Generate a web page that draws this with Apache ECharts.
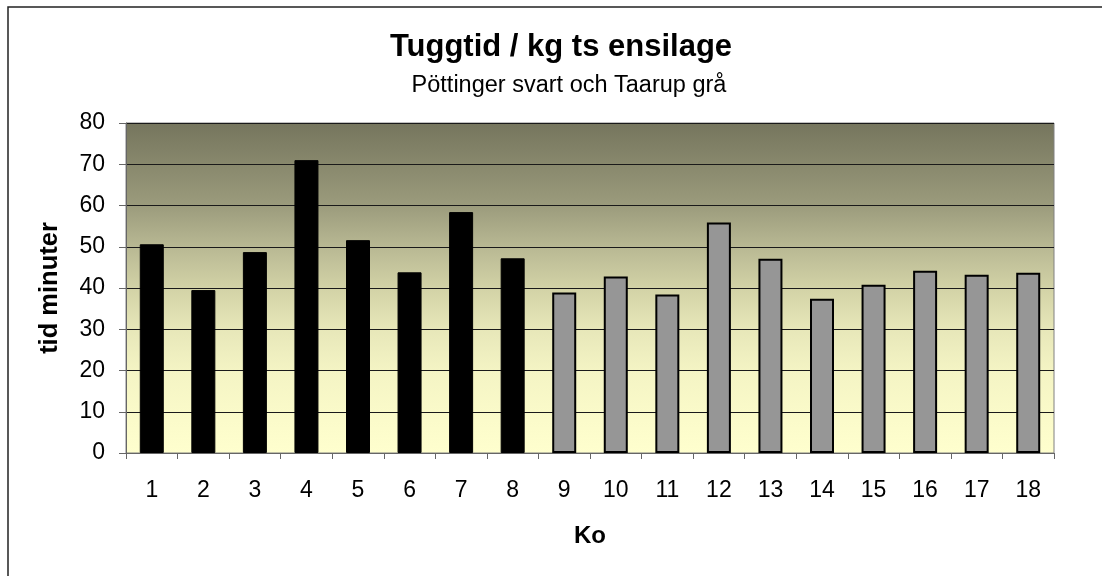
<!DOCTYPE html>
<html>
<head>
<meta charset="utf-8">
<script src="https://cdn.jsdelivr.net/npm/echarts@6/dist/echarts.min.js"></script>
<style>
    html, body { margin: 0; padding: 0; background: #fff; }
    #chart { width: 1102px; height: 576px; }
</style>
</head>
<body>
<div id="chart"></div>
<script>
const categories = ['1', '2', '3', '4', '5', '6', '7', '8', '9', '10', '11', '12', '13', '14', '15', '16', '17', '18'];
// Pöttinger (svart) ko 1-8, Taarup (grå) ko 9-18
const pottinger = [50.6, 39.5, 48.7, 71.0, 51.6, 43.8, 58.4, 47.2];
const taarup = [38.9, 42.8, 38.4, 55.9, 47.1, 37.4, 40.8, 44.2, 43.2, 43.7];
const yTicks = [0, 10, 20, 30, 40, 50, 60, 70, 80];

const font = '"Liberation Sans", Arial, sans-serif';
const myChart = echarts.init(document.getElementById('chart'));

const pottingerData = categories.map((c, i) => (i < pottinger.length ? pottinger[i] : '-'));
const taarupData = categories.map((c, i) => (i >= pottinger.length ? taarup[i - pottinger.length] : '-'));

const option = {
    backgroundColor: '#fff',
    animation: false,
    textStyle: { fontFamily: font },
    title: [
        {
            text: 'Tuggtid / kg ts ensilage',
            left: 556,
            top: 27,
            textAlign: 'center',
            textStyle: { fontFamily: font, fontSize: 31, fontWeight: 'bold', color: '#000' },
        },
        {
            text: 'Pöttinger svart och Taarup grå',
            left: 564,
            top: 69,
            textAlign: 'center',
            textStyle: { fontFamily: font, fontSize: 23.5, fontWeight: 'normal', color: '#000' },
        },
    ],
    graphic: [
        {
            type: 'rect',
            z: -1,
            shape: { x: 8, y: 7, width: 1200, height: 700 },
            style: { fill: 'none', stroke: '#222', lineWidth: 1.5 },
        },
    ],
    grid: {
        left: 126,
        right: 48,
        top: 123,
        bottom: 123,
        show: true,
        borderColor: '#808080',
        borderWidth: 1,
        backgroundColor: new echarts.graphic.LinearGradient(0, 0, 0, 1, [
            { offset: 0, color: '#75755D' },
            { offset: 0.25, color: '#9B9B7C' },
            { offset: 0.375, color: '#B8B893' },
            { offset: 0.5, color: '#D2D2A6' },
            { offset: 0.625, color: '#E7E7B9' },
            { offset: 0.75, color: '#F4F4C4' },
            { offset: 0.875, color: '#FAFAC9' },
            { offset: 1, color: '#FFFFCE' },
        ]),
    },
    xAxis: {
        type: 'category',
        data: categories,
        name: 'Ko',
        nameLocation: 'middle',
        nameGap: 71,
        nameTextStyle: { fontFamily: font, fontSize: 24, fontWeight: 'bold', color: '#000' },
        axisLine: { lineStyle: { color: '#666', width: 1 } },
        axisTick: { show: true, length: 6, lineStyle: { color: '#666' } },
        axisLabel: { fontFamily: font, fontSize: 23, color: '#000', margin: 26 },
    },
    yAxis: {
        type: 'value',
        min: yTicks[0],
        max: yTicks[yTicks.length - 1],
        interval: 10,
        name: 'tid minuter',
        nameLocation: 'middle',
        nameGap: 63,
        nameTextStyle: { fontFamily: font, fontSize: 25.5, fontWeight: 'bold', color: '#000' },
        axisLine: { show: true, lineStyle: { color: '#666', width: 1 } },
        axisTick: { show: true, length: 7, lineStyle: { color: '#666' } },
        axisLabel: { fontFamily: font, fontSize: 23, color: '#000', margin: 21 },
        splitLine: { show: true, lineStyle: { color: '#1a1a1a', width: 1 } },
    },
    series: [
        {
            name: 'Pöttinger',
            type: 'bar',
            stack: 'ko',
            barWidth: 24,
            data: pottingerData,
            itemStyle: { color: '#000', borderColor: '#000', borderWidth: 1 },
        },
        {
            name: 'Taarup',
            type: 'bar',
            stack: 'ko',
            barWidth: 24,
            data: taarupData,
            itemStyle: { color: '#969696', borderColor: '#000', borderWidth: 2 },
        },
    ],
};
myChart.setOption(option);
</script>
</body>
</html>
